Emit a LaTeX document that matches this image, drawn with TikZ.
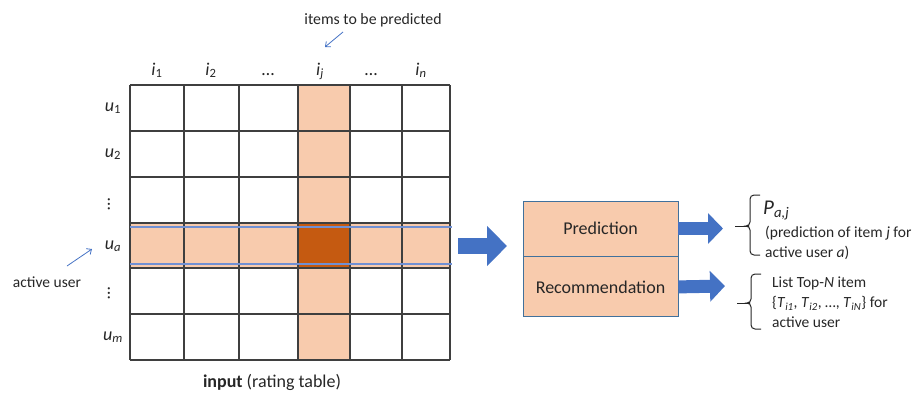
\documentclass[tikz,border=0pt]{standalone}
\usepackage{fontspec}
\setmainfont{Carlito}
\usetikzlibrary{arrows.meta}

\definecolor{peach}{HTML}{F8CBAD}
\definecolor{rust}{HTML}{C55A11}
\definecolor{accent}{HTML}{4472C4}
\definecolor{gridline}{HTML}{3F3F3F}
\definecolor{ink}{HTML}{262626}
\definecolor{boxline}{HTML}{41719C}
\definecolor{rowline}{HTML}{7090D4}

% italic letter with a subscript, as in u_1 or i_j
\newcommand{\lbl}[2]{\textit{#1}\textsubscript{#2}}

\tikzset{
  hdr/.style={text=ink, inner sep=0pt, font=\fontsize{18}{22}\selectfont},
  note/.style={text=ink, inner sep=0pt, align=left, font=\fontsize{15.5}{20}\selectfont},
  gridstroke/.style={draw=gridline, line width=1.1pt},
  rowmark/.style={draw=rowline, line width=1.1pt},
  pointer/.style={draw=accent, line width=0.8pt, -{Straight Barb[length=4pt,width=7pt]}},
  stage/.style={draw=boxline, fill=peach, line width=0.9pt, minimum width=155pt,
                inner sep=0pt, text=ink, font=\fontsize{18}{22}\selectfont},
  bigarrow/.style={draw=accent, line width=16pt, -{Triangle[width=39pt,length=20pt]}},
  smallarrow/.style={draw=accent, line width=13pt, -{Triangle[width=30pt,length=15pt]}},
  bracket/.style={draw=ink, line width=1pt, rounded corners=4pt},
  vdot/.style={text=ink, inner sep=0pt, rotate=90, font=\fontsize{18}{22}\selectfont},
}

\begin{document}
\begin{tikzpicture}[x=1pt,y=-1pt]
\useasboundingbox (0,0) rectangle (916,394);

% ---- rating table: highlighted column j, active row a and their crossing
\fill[peach] (298,85) rectangle (350,360);
\fill[peach] (130,223) rectangle (450,268);
\fill[rust] (298,223) rectangle (350,268);

% grid
\foreach \x in {130,184,239,298,350,402,450}
  \draw[gridstroke] (\x,85) -- (\x,360);
\foreach \y in {85,131,177,223,268,314,360}
  \draw[gridstroke] (130,\y) -- (450,\y);

% outline of the active user's row
\draw[rowmark] (130,227) -- (452,227);
\draw[rowmark] (130,264) -- (452,264);

% column headers
\node[hdr, anchor=base] (i1) at (157,75) {\lbl{i}{1}};
\node[hdr, anchor=base] (i2) at (211,75) {\lbl{i}{2}};
\node[hdr, anchor=base] (id1) at (268,75) {\ldots};
\node[hdr, anchor=base] (ij) at (320,75) {\lbl{i}{\textit{j}}};
\node[hdr, anchor=base] (id2) at (371,75) {\ldots};
\node[hdr, anchor=base] (in) at (421,75) {\lbl{i}{\textit{n}}};

% row headers
\node[hdr, anchor=base] (u1) at (113,111) {\lbl{u}{1}};
\node[hdr, anchor=base] (u2) at (113,157) {\lbl{u}{2}};
\node[vdot] (ud1) at (109,204) {\ldots};
\node[hdr, anchor=base] (ua) at (113,249) {\lbl{u}{\textit{a}}};
\node[vdot] (ud2) at (109,293) {\ldots};
\node[hdr, anchor=base] (um) at (113,340) {\lbl{u}{\textit{m}}};

% annotations around the table
\node[note, font=\fontsize{15.8}{20}\selectfont] (items) at (373,20) {items to be predicted};
\coordinate (itemsTail) at (343,32);
\coordinate (itemsTip) at (325,47);
\draw[pointer] (itemsTail) -- (itemsTip);

\node[note] (active) at (47,282) {active user};
\coordinate (activeTail) at (67,266);
\coordinate (activeTip) at (92,249);
\draw[pointer] (activeTail) -- (activeTip);

\node[hdr, anchor=base] (caption) at (272,387) {\textbf{input} (rating table)};

% ---- processing stages
\node[stage, minimum height=55pt] (pred) at (600.5,228.5) {Prediction};
\node[stage, minimum height=60pt, anchor=north] (rec) at (pred.south) {Recommendation};

\coordinate (tableOut) at (458,246);
\coordinate (stageIn) at (507,246);
\draw[bigarrow] (tableOut) -- (stageIn);

\coordinate (predOut) at (723,228.5);
\coordinate (recOut) at (725,286);
\draw[smallarrow] (pred.east) -- (predOut);
\draw[smallarrow] (rec.east) -- (recOut);

% ---- outputs, each grouped by a left brace
\draw[bracket] (760,195) -- (750,195) -- (750,226) -- (745,226) -- (750,226) -- (750,255) -- (760,255);
\draw[ink, line width=1pt] (735,226) -- (749,226);
\draw[bracket] (761,274) -- (751,274) -- (751,303) -- (746,303) -- (751,303) -- (751,329) -- (761,329);
\draw[ink, line width=1pt] (737,303) -- (750,303);

\node[anchor=base west, text=ink, inner sep=0pt, font=\fontsize{21}{24}\selectfont] (pout) at (763,214) {\textit{P}\textsubscript{\textit{a,j}}};
\node[note, anchor=west] (pdesc) at (765,243) {(prediction of item \textit{j} for\\active user \textit{a})};
\node[note, anchor=west] (rdesc) at (772,302.5) {List Top-\textit{N} item\\
  \{\lbl{T}{\textit{i1}}, \lbl{T}{\textit{i2}}, \ldots, \lbl{T}{\textit{iN}}\} for\\active user};
\end{tikzpicture}
\end{document}
